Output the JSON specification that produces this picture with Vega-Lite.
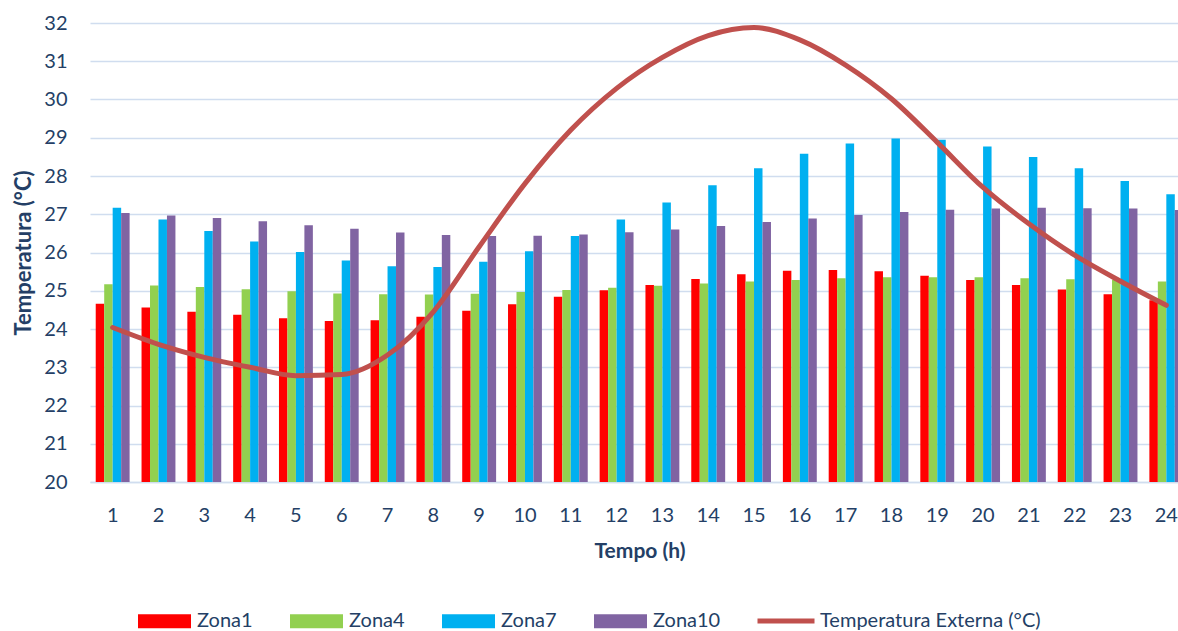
{
  "$schema": "https://vega.github.io/schema/vega-lite/v6.json",
  "width": 1099,
  "height": 459,
  "autosize": {"type": "none"},
  "padding": {"left": 90, "top": 23, "right": 0, "bottom": 149},
  "background": "white",
  "datasets": {
    "bars": [
      {"h":1,"zona":"Zona1","temp":24.66},{"h":1,"zona":"Zona4","temp":25.17},{"h":1,"zona":"Zona7","temp":27.17},{"h":1,"zona":"Zona10","temp":27.03},
      {"h":2,"zona":"Zona1","temp":24.56},{"h":2,"zona":"Zona4","temp":25.14},{"h":2,"zona":"Zona7","temp":26.86},{"h":2,"zona":"Zona10","temp":26.97},
      {"h":3,"zona":"Zona1","temp":24.45},{"h":3,"zona":"Zona4","temp":25.10},{"h":3,"zona":"Zona7","temp":26.56},{"h":3,"zona":"Zona10","temp":26.90},
      {"h":4,"zona":"Zona1","temp":24.37},{"h":4,"zona":"Zona4","temp":25.04},{"h":4,"zona":"Zona7","temp":26.29},{"h":4,"zona":"Zona10","temp":26.82},
      {"h":5,"zona":"Zona1","temp":24.28},{"h":5,"zona":"Zona4","temp":24.99},{"h":5,"zona":"Zona7","temp":26.01},{"h":5,"zona":"Zona10","temp":26.71},
      {"h":6,"zona":"Zona1","temp":24.21},{"h":6,"zona":"Zona4","temp":24.93},{"h":6,"zona":"Zona7","temp":25.79},{"h":6,"zona":"Zona10","temp":26.62},
      {"h":7,"zona":"Zona1","temp":24.23},{"h":7,"zona":"Zona4","temp":24.91},{"h":7,"zona":"Zona7","temp":25.64},{"h":7,"zona":"Zona10","temp":26.52},
      {"h":8,"zona":"Zona1","temp":24.32},{"h":8,"zona":"Zona4","temp":24.90},{"h":8,"zona":"Zona7","temp":25.62},{"h":8,"zona":"Zona10","temp":26.46},
      {"h":9,"zona":"Zona1","temp":24.48},{"h":9,"zona":"Zona4","temp":24.92},{"h":9,"zona":"Zona7","temp":25.76},{"h":9,"zona":"Zona10","temp":26.43},
      {"h":10,"zona":"Zona1","temp":24.65},{"h":10,"zona":"Zona4","temp":24.97},{"h":10,"zona":"Zona7","temp":26.03},{"h":10,"zona":"Zona10","temp":26.44},
      {"h":11,"zona":"Zona1","temp":24.84},{"h":11,"zona":"Zona4","temp":25.02},{"h":11,"zona":"Zona7","temp":26.43},{"h":11,"zona":"Zona10","temp":26.47},
      {"h":12,"zona":"Zona1","temp":25.01},{"h":12,"zona":"Zona4","temp":25.08},{"h":12,"zona":"Zona7","temp":26.86},{"h":12,"zona":"Zona10","temp":26.53},
      {"h":13,"zona":"Zona1","temp":25.15},{"h":13,"zona":"Zona4","temp":25.13},{"h":13,"zona":"Zona7","temp":27.31},{"h":13,"zona":"Zona10","temp":26.60},
      {"h":14,"zona":"Zona1","temp":25.31},{"h":14,"zona":"Zona4","temp":25.19},{"h":14,"zona":"Zona7","temp":27.76},{"h":14,"zona":"Zona10","temp":26.69},
      {"h":15,"zona":"Zona1","temp":25.43},{"h":15,"zona":"Zona4","temp":25.24},{"h":15,"zona":"Zona7","temp":28.20},{"h":15,"zona":"Zona10","temp":26.80},
      {"h":16,"zona":"Zona1","temp":25.52},{"h":16,"zona":"Zona4","temp":25.28},{"h":16,"zona":"Zona7","temp":28.58},{"h":16,"zona":"Zona10","temp":26.89},
      {"h":17,"zona":"Zona1","temp":25.54},{"h":17,"zona":"Zona4","temp":25.33},{"h":17,"zona":"Zona7","temp":28.85},{"h":17,"zona":"Zona10","temp":26.98},
      {"h":18,"zona":"Zona1","temp":25.51},{"h":18,"zona":"Zona4","temp":25.35},{"h":18,"zona":"Zona7","temp":28.98},{"h":18,"zona":"Zona10","temp":27.06},
      {"h":19,"zona":"Zona1","temp":25.39},{"h":19,"zona":"Zona4","temp":25.35},{"h":19,"zona":"Zona7","temp":28.95},{"h":19,"zona":"Zona10","temp":27.12},
      {"h":20,"zona":"Zona1","temp":25.28},{"h":20,"zona":"Zona4","temp":25.35},{"h":20,"zona":"Zona7","temp":28.77},{"h":20,"zona":"Zona10","temp":27.15},
      {"h":21,"zona":"Zona1","temp":25.15},{"h":21,"zona":"Zona4","temp":25.33},{"h":21,"zona":"Zona7","temp":28.50},{"h":21,"zona":"Zona10","temp":27.17},
      {"h":22,"zona":"Zona1","temp":25.03},{"h":22,"zona":"Zona4","temp":25.30},{"h":22,"zona":"Zona7","temp":28.20},{"h":22,"zona":"Zona10","temp":27.16},
      {"h":23,"zona":"Zona1","temp":24.91},{"h":23,"zona":"Zona4","temp":25.28},{"h":23,"zona":"Zona7","temp":27.87},{"h":23,"zona":"Zona10","temp":27.15},
      {"h":24,"zona":"Zona1","temp":24.75},{"h":24,"zona":"Zona4","temp":25.24},{"h":24,"zona":"Zona7","temp":27.52},{"h":24,"zona":"Zona10","temp":27.11}
    ],
    "line": [
      {"h":1,"serie":"Temperatura Externa (°C)","temp":24.04},
      {"h":2,"serie":"Temperatura Externa (°C)","temp":23.60},
      {"h":3,"serie":"Temperatura Externa (°C)","temp":23.26},
      {"h":4,"serie":"Temperatura Externa (°C)","temp":23.00},
      {"h":5,"serie":"Temperatura Externa (°C)","temp":22.78},
      {"h":6,"serie":"Temperatura Externa (°C)","temp":22.81},
      {"h":7,"serie":"Temperatura Externa (°C)","temp":23.32},
      {"h":8,"serie":"Temperatura Externa (°C)","temp":24.45},
      {"h":9,"serie":"Temperatura Externa (°C)","temp":26.15},
      {"h":10,"serie":"Temperatura Externa (°C)","temp":27.80},
      {"h":11,"serie":"Temperatura Externa (°C)","temp":29.20},
      {"h":12,"serie":"Temperatura Externa (°C)","temp":30.29},
      {"h":13,"serie":"Temperatura Externa (°C)","temp":31.10},
      {"h":14,"serie":"Temperatura Externa (°C)","temp":31.67},
      {"h":15,"serie":"Temperatura Externa (°C)","temp":31.88},
      {"h":16,"serie":"Temperatura Externa (°C)","temp":31.56},
      {"h":17,"serie":"Temperatura Externa (°C)","temp":30.90},
      {"h":18,"serie":"Temperatura Externa (°C)","temp":30.02},
      {"h":19,"serie":"Temperatura Externa (°C)","temp":28.88},
      {"h":20,"serie":"Temperatura Externa (°C)","temp":27.70},
      {"h":21,"serie":"Temperatura Externa (°C)","temp":26.75},
      {"h":22,"serie":"Temperatura Externa (°C)","temp":25.93},
      {"h":23,"serie":"Temperatura Externa (°C)","temp":25.25},
      {"h":24,"serie":"Temperatura Externa (°C)","temp":24.62}
    ]
  },
  "encoding": {
    "x": {
      "field": "h", "type": "ordinal",
      "scale": {"paddingInner": 0.26, "paddingOuter": 0.125},
      "axis": {
        "title": "Tempo (h)", "labelAngle": 0, "ticks": false,
        "labelPadding": 23, "labelFontSize": 20, "labelColor": "#243F66",
        "titleFontSize": 21, "titleFontWeight": "bold", "titleColor": "#243F66",
        "titlePadding": 15, "domainColor": "#D0DDEF", "domainWidth": 1.5, "grid": false
      }
    },
    "y": {
      "field": "temp", "type": "quantitative",
      "scale": {"domain": [20, 32], "zero": false, "nice": false},
      "axis": {
        "title": "Temperatura (°C)", "values": [20,21,22,23,24,25,26,27,28,29,30,31,32],
        "format": "d", "labelOverlap": false, "tickCount": 30,
        "ticks": false, "domain": false, "labelPadding": 23, "labelFontSize": 20,
        "labelColor": "#243F66", "titleFontSize": 22, "titleFontWeight": "bold",
        "titleColor": "#243F66", "titlePadding": 8,
        "grid": true, "gridColor": "#D0DDEF", "gridWidth": 1.5
      }
    }
  },
  "layer": [
    {
      "data": {"name": "bars"},
      "mark": {"type": "bar"},
      "encoding": {
        "xOffset": {"field": "zona", "type": "nominal", "scale": {"domain": ["Zona1","Zona4","Zona7","Zona10"], "paddingInner": 0, "paddingOuter": 0}},
        "y2": {"datum": 20},
        "color": {
          "field": "zona", "type": "nominal",
          "scale": {"domain": ["Zona1","Zona4","Zona7","Zona10"], "range": ["#FF0000","#92D050","#00B0F0","#8064A2"]},
          "legend": {
            "title": null, "orient": "none", "direction": "horizontal",
            "legendX": 48, "legendY": 571.5, "padding": 0,
            "symbolType": "M-1,-0.265H1V0.265H-1Z", "symbolSize": 2809, "symbolStrokeWidth": 0,
            "labelOffset": 6, "labelFontSize": 20, "labelColor": "#243F66",
            "gridAlign": "all", "columnPadding": 25
          }
        }
      }
    },
    {
      "data": {"name": "line"},
      "mark": {"type": "line", "strokeWidth": 5, "interpolate": "monotone", "strokeCap": "round", "strokeJoin": "round"},
      "encoding": {
        "stroke": {
          "field": "serie", "type": "nominal",
          "scale": {"range": ["#C0504D"]},
          "legend": {
            "title": null, "orient": "none", "direction": "horizontal",
            "legendX": 665, "legendY": 567, "padding": 0,
            "symbolType": "stroke", "symbolSize": 3249, "symbolStrokeWidth": 5,
            "labelOffset": 3, "labelFontSize": 20, "labelColor": "#243F66",
            "labelLimit": 400
          }
        }
      }
    }
  ],
  "resolve": {"scale": {"color": "independent"}},
  "config": {
    "font": "Lato",
    "view": {"stroke": null},
    "axis": {"labelFont": "Lato", "titleFont": "Lato"},
    "legend": {"labelFont": "Lato"}
  }
}
